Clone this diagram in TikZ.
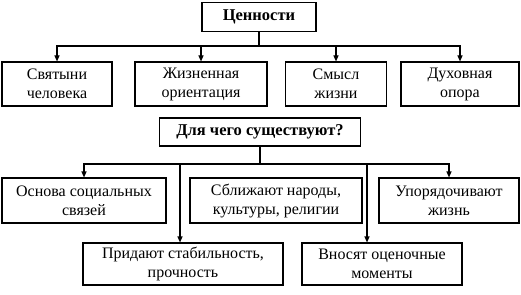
\documentclass[tikz,border=0pt]{standalone}
\usepackage{fontspec}
\setmainfont{Liberation Serif}
\usetikzlibrary{arrows.meta,positioning}

\begin{document}
\begin{tikzpicture}[
    x=1pt,y=-1pt,
    line width=1.1pt,
    >={Triangle[length=6pt,width=5pt]},
    every node/.style={draw,align=center,inner sep=1pt,font=\fontsize{16}{19}\selectfont},
    head/.style={font=\fontsize{16.5}{19}\selectfont\bfseries}
]
    \useasboundingbox (0,0) rectangle (521,294);
    % top part
    \node[head,minimum width=114pt,minimum height=29pt] (v0) at (259,17) {Ценности};
    \node[minimum width=110pt,minimum height=44pt] (v1) at (57,84) {Святыни\\человека};
    \node[minimum width=132pt,minimum height=44pt] (v2) at (201,84) {Жизненная\\ориентация};
    \node[minimum width=101pt,minimum height=44pt] (v3) at (336,84) {Смысл\\жизни};
    \node[minimum width=118pt,minimum height=44pt] (v4) at (460,84) {Духовная\\опора};
    \coordinate (h0) at (259,46);
    \draw (v0) -- (h0);
    \draw[->] (h0) -| (v1);
    \draw[->] (h0) -| (v2);
    \draw[->] (h0) -| (v3);
    \draw[->] (h0) -| (v4);
    % bottom part
    \node[head,minimum width=201pt,minimum height=28pt] (q) at (260,132) {Для чего существуют?};
    \node[minimum width=164pt,minimum height=45pt] (r1) at (84,200.5) {Основа социальных\\связей};
    \node[minimum width=172pt,minimum height=45pt] (r2) at (276,200.5) {Сближают народы,\\культуры, религии};
    \node[minimum width=140pt,minimum height=45pt] (r3) at (449,200.5) {Упорядочивают\\жизнь};
    \node[minimum width=200pt,minimum height=42pt] (b1) at (183,264) {Придают стабильность,\\прочность};
    \node[minimum width=160pt,minimum height=42pt] (b2) at (382,264) {Вносят оценочные\\моменты};
    \coordinate (q0) at (260,164);
    \coordinate (q1) at (180,164);
    \coordinate (q2) at (367,164);
    \draw (q) -- (q0);
    \draw[->] (q0) -| (r1);
    \draw[->] (q0) -| (r3);
    \draw[->] (q1) -- (q1 |- b1.north);
    \draw[->] (q2) -- (q2 |- b2.north);
\end{tikzpicture}
\end{document}
